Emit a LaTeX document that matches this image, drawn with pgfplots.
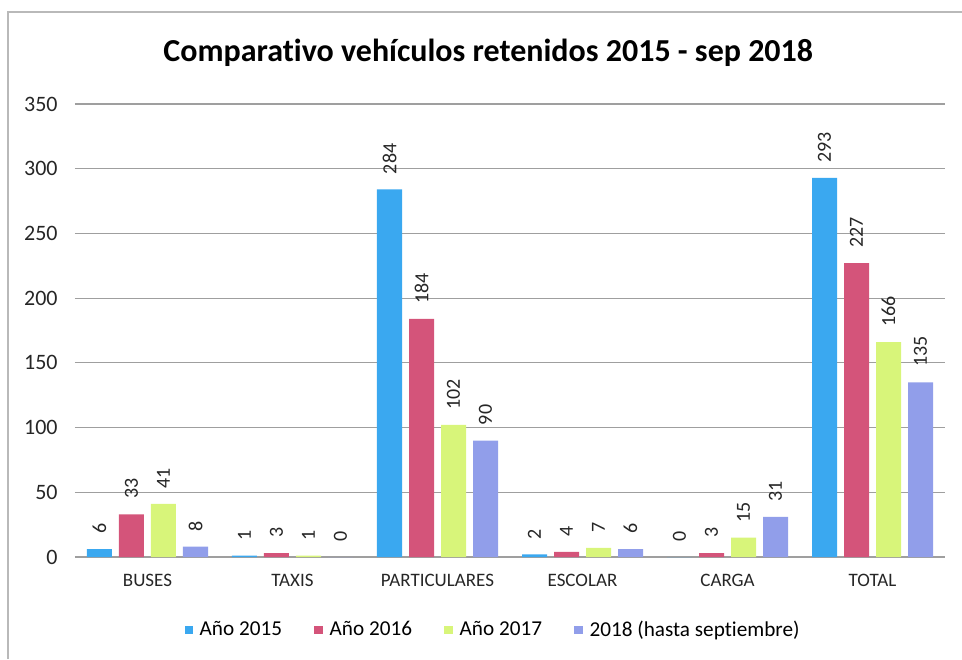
\documentclass[border=0pt]{standalone}
\usepackage{fontspec}
\setmainfont{Carlito}[Ligatures=NoCommon]
\usepackage{pgfplots}
\pgfplotsset{compat=1.18}
\definecolor{c15}{HTML}{3AA8F0}
\definecolor{c16}{HTML}{D4547A}
\definecolor{c17}{HTML}{D8F57A}
\definecolor{c18}{HTML}{919EEA}
\begin{document}
\begin{tikzpicture}
\useasboundingbox (-37.5pt,-51pt) rectangle (443.5pt,278.5pt);
\draw[gray!55, line width=0.7pt] (-33.5pt,-51pt) -- (-33.5pt,272.5pt) -- (443.5pt,272.5pt);
\begin{axis}[
  scale only axis, width=435pt, height=226.5pt,
  ybar=3.5pt, bar width=12.5pt,
  xmin=-0.5, xmax=5.5, ymin=0, ymax=350,
  ytick={0,50,...,350},
  xtick={0,1,2,3,4,5},
  xticklabels={BUSES,TAXIS,PARTICULARES,ESCOLAR,CARGA,TOTAL},
  axis line style={draw=none},
  major tick length=0pt,
  ymajorgrids, major grid style={gray!75, line width=0.6pt},
  /pgf/number format/assume math mode=true,
  yticklabel style={font=\fontsize{11}{13}\selectfont, anchor=east, inner sep=0pt, xshift=-8.5pt, text=black!85},
  xticklabel style={font=\fontsize{9.5}{11}\selectfont, anchor=base, inner sep=0pt, yshift=-14.5pt, text=black!85},
  title={\bfseries Comparativo vehículos retenidos 2015 - sep 2018},
  title style={font=\fontsize{16}{18}\selectfont, at={(0.475,1)}, anchor=center, yshift=19.5pt},
  nodes near coords,
  every node near coord/.append style={rotate=90, anchor=west, font=\fontsize{10}{12}\selectfont, inner xsep=7.5pt, inner ysep=0pt, text=black!85},
  legend columns=-1,
  legend style={at={(0.483,0)}, anchor=center, yshift=-36.5pt, draw=none, font=\fontsize{10.6}{12}\selectfont,
    nodes={inner xsep=3.2pt},
    /tikz/every odd column/.append style={column sep=0pt},
    /tikz/every even column/.append style={column sep=13pt}},
  legend image code/.code={\fill[#1] (0pt,-2.2pt) rectangle (4.4pt,2.2pt);},
]
\addplot[fill=c15, draw=none] coordinates {(0,6) (1,1) (2,284) (3,2) (4,0) (5,293)};
\addplot[fill=c16, draw=none] coordinates {(0,33) (1,3) (2,184) (3,4) (4,3) (5,227)};
\addplot[fill=c17, draw=none] coordinates {(0,41) (1,1) (2,102) (3,7) (4,15) (5,166)};
\addplot[fill=c18, draw=none] coordinates {(0,8) (1,0) (2,90) (3,6) (4,31) (5,135)};
\legend{Año 2015, Año 2016, Año 2017, 2018 (hasta septiembre)}
\end{axis}
\end{tikzpicture}
\end{document}
